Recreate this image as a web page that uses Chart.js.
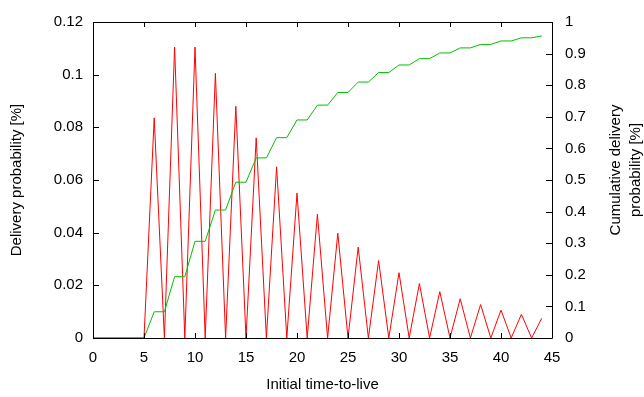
<!DOCTYPE html>
<html>
<head>
<meta charset="utf-8">
<script src="https://cdn.jsdelivr.net/npm/chart.js@4.4.1/dist/chart.umd.min.js"></script>
<style>
    html, body { margin: 0; padding: 0; background: #fff; }
    #wrap { width: 644px; height: 397px; position: relative; }
</style>
</head>
<body>
<div id="wrap"><canvas id="ttlChart"></canvas></div>
<script>
// Data
const ttl = [0, 1, 2, 3, 4, 5, 6, 7, 8, 9, 10, 11, 12, 13, 14, 15, 16, 17, 18, 19, 20, 21,
    22, 23, 24, 25, 26, 27, 28, 29, 30, 31, 32, 33, 34, 35, 36, 37, 38, 39, 40, 41, 42, 43, 44];
const deliveryProb = [0, 0, 0, 0, 0, 0, 0.0836, 0, 0.1105, 0, 0.1105, 0, 0.1005, 0, 0.088, 0,
    0.076, 0, 0.065, 0, 0.055, 0, 0.047, 0, 0.0398, 0, 0.0345, 0, 0.0294, 0, 0.0248, 0,
    0.0207, 0, 0.0176, 0, 0.0149, 0, 0.0127, 0, 0.0106, 0, 0.009, 0, 0.0075];
const cumulativeProb = [0, 0, 0, 0, 0, 0, 0.083, 0.083, 0.194, 0.194, 0.306, 0.306, 0.405, 0.405,
    0.493, 0.493, 0.570, 0.570, 0.634, 0.634, 0.690, 0.690, 0.737, 0.737, 0.777, 0.777,
    0.810, 0.810, 0.840, 0.840, 0.864, 0.864, 0.884, 0.884, 0.902, 0.902, 0.918, 0.918,
    0.929, 0.929, 0.940, 0.940, 0.950, 0.950, 0.956];
const xTicks = [0, 5, 10, 15, 20, 25, 30, 35, 40, 45];
const leftTicks = [0, 0.02, 0.04, 0.06, 0.08, 0.1, 0.12];
const rightTicks = [0, 0.1, 0.2, 0.3, 0.4, 0.5, 0.6, 0.7, 0.8, 0.9, 1];

const xTitle = 'Initial time-to-live';
const leftTitle = 'Delivery probability [%]';
const rightTitle = ['Cumulative delivery', 'probability [%]'];

const FONT = "'Liberation Sans', Arial, sans-serif";

// gnuplot-style frame: border box, inward ticks, right title read bottom-up
const framePlugin = {
    id: 'gnuplotFrame',
    afterDatasetsDraw(chart) {
        const { ctx, chartArea: a, scales } = chart;
        ctx.save();
        ctx.strokeStyle = '#000';
        ctx.lineWidth = 1;
        ctx.beginPath();
        ctx.rect(Math.round(a.left) + 0.5, Math.round(a.top) + 0.5,
            Math.round(a.right - a.left), Math.round(a.bottom - a.top));
        xTicks.forEach(v => {
            const px = Math.round(scales.x.getPixelForValue(v)) + 0.5;
            ctx.moveTo(px, a.bottom); ctx.lineTo(px, a.bottom - 5);
            ctx.moveTo(px, a.top); ctx.lineTo(px, a.top + 5);
        });
        leftTicks.forEach(v => {
            const py = Math.round(scales.y.getPixelForValue(v)) + 0.5;
            ctx.moveTo(a.left, py); ctx.lineTo(a.left + 6, py);
        });
        rightTicks.forEach(v => {
            const py = Math.round(scales.y2.getPixelForValue(v)) + 0.5;
            ctx.moveTo(a.right, py); ctx.lineTo(a.right - 6, py);
        });
        ctx.stroke();

        // right axis title, two lines, rotated to read upwards
        ctx.fillStyle = '#000';
        ctx.font = '15px ' + FONT;
        ctx.textAlign = 'center';
        ctx.textBaseline = 'middle';
        ctx.translate(626, (a.top + a.bottom) / 2 - 10);
        ctx.rotate(-Math.PI / 2);
        ctx.fillText(rightTitle[0], 0, -10);
        ctx.fillText(rightTitle[1], 0, 10);
        ctx.restore();
    }
};

const fmt = v => String(+v.toFixed(2));

Chart.defaults.font.family = FONT;
Chart.defaults.font.size = 15;
Chart.defaults.color = '#000';

new Chart(document.getElementById('ttlChart'), {
    type: 'line',
    data: {
        datasets: [
            {
                label: 'Delivery probability',
                data: ttl.map((t, i) => ({ x: t, y: deliveryProb[i] })),
                borderColor: '#ff0000',
                borderWidth: 1,
                pointRadius: 0,
                tension: 0,
                yAxisID: 'y',
                order: 2
            },
            {
                label: 'Cumulative delivery probability',
                data: ttl.map((t, i) => ({ x: t, y: cumulativeProb[i] })),
                borderColor: '#00c000',
                borderWidth: 1,
                pointRadius: 0,
                tension: 0,
                yAxisID: 'y2',
                order: 1
            }
        ]
    },
    options: {
        responsive: true,
        maintainAspectRatio: false,
        animation: false,
        layout: { padding: { top: 19, right: 0, left: 0, bottom: 0 } },
        plugins: {
            legend: { display: false },
            tooltip: { enabled: false }
        },
        scales: {
            x: {
                type: 'linear',
                min: 0,
                max: 45,
                afterBuildTicks: s => { s.ticks = xTicks.map(v => ({ value: v })); },
                ticks: { padding: 11, maxRotation: 0, autoSkip: false },
                grid: { display: false, drawTicks: false },
                border: { display: false },
                title: { display: true, text: xTitle, padding: { top: 0, bottom: 3 } },
                afterFit: s => { s.height = 59; }
            },
            y: {
                position: 'left',
                min: 0,
                max: 0.12,
                afterBuildTicks: s => { s.ticks = leftTicks.map(v => ({ value: v })); },
                ticks: { padding: 10, callback: fmt },
                grid: { display: false, drawTicks: false },
                border: { display: false },
                title: { display: true, text: leftTitle, padding: { top: 8, bottom: 0 } },
                afterFit: s => { s.width = 93; }
            },
            y2: {
                position: 'right',
                min: 0,
                max: 1,
                afterBuildTicks: s => { s.ticks = rightTicks.map(v => ({ value: v })); },
                ticks: { padding: 13, callback: fmt },
                grid: { display: false, drawTicks: false },
                border: { display: false },
                afterFit: s => { s.width = 92; }
            }
        }
    },
    plugins: [framePlugin]
});
</script>
</body>
</html>
